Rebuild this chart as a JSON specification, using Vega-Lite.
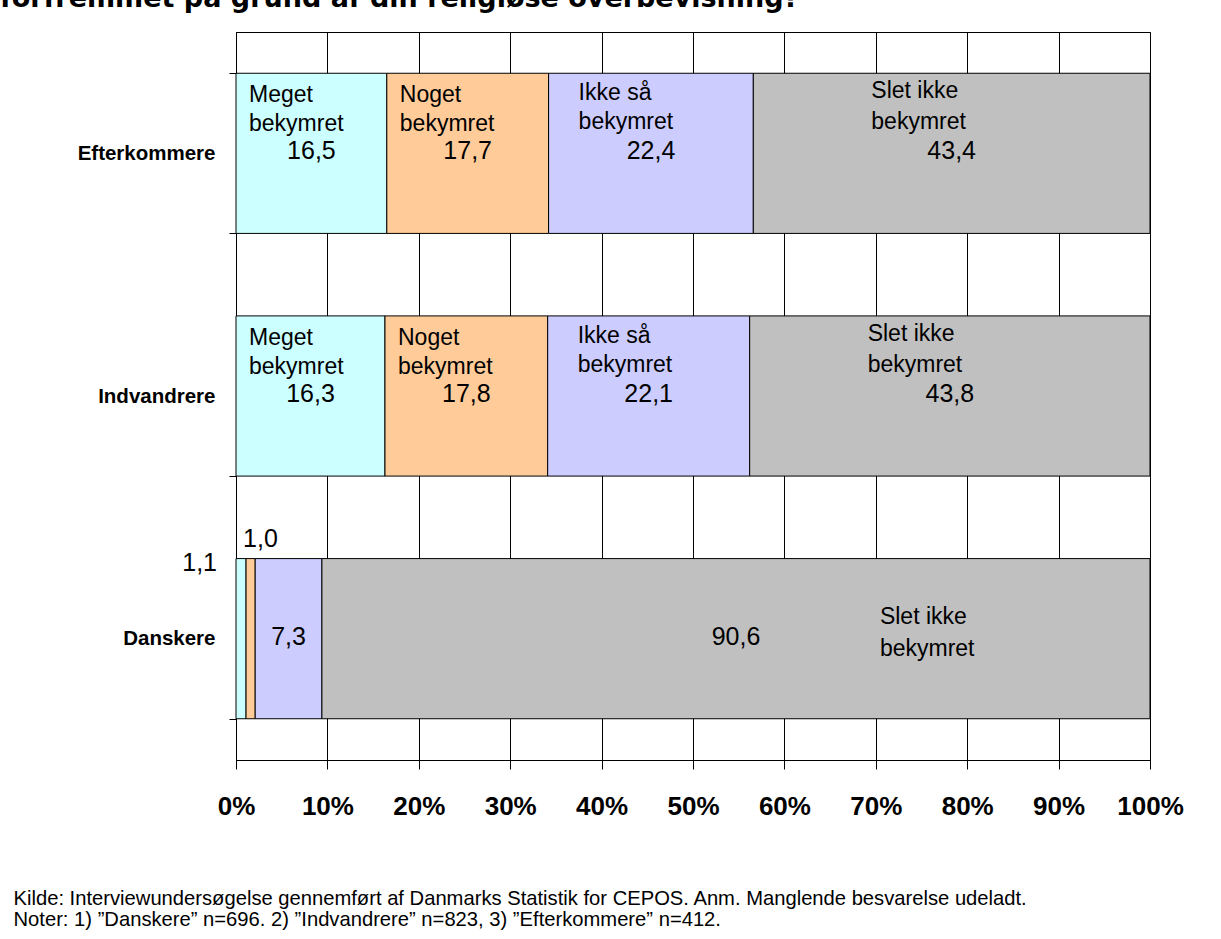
{
  "$schema": "https://vega.github.io/schema/vega-lite/v6.json",
  "autosize": {"type": "none"},
  "padding": {"left": 236, "top": 32, "right": 71, "bottom": 179},
  "width": 914,
  "height": 728,
  "background": "white",
  "title": {
    "text": "forfremmet på grund af din religiøse overbevisning?",
    "anchor": "start",
    "frame": "group",
    "offset": 8,
    "dx": -236,
    "dy": 20,
    "baseline": "alphabetic",
    "font": "DejaVu Sans",
    "fontSize": 27,
    "fontWeight": "bold",
    "color": "black"
  },
  "config": {
    "locale": {"number": {"decimal": ",", "thousands": ".", "grouping": [3], "currency": ["", " kr."]}},
    "view": {"stroke": "black", "strokeWidth": 1},
    "axisX": {
      "grid": true,
      "gridColor": "black",
      "gridOpacity": 1,
      "gridWidth": 1,
      "domainColor": "black",
      "tickColor": "black",
      "tickSize": 9,
      "labelFont": "Liberation Sans",
      "labelFontSize": 26,
      "labelFontWeight": "bold",
      "labelColor": "black",
      "labelPadding": 24,
      "labelFlush": false,
      "labelOverlap": false,
      "titleFont": "Liberation Sans",
      "titleFontSize": 20.2,
      "titleFontWeight": "normal",
      "titleColor": "black",
      "titleAnchor": "start",
      "titleAlign": "left",
      "titleBaseline": "alphabetic",
      "titleX": -223,
      "titleY": 144,
      "titleLineHeight": 21
    }
  },
  "data": {
    "values": [
      {"gruppe": "Efterkommere", "svar": "Meget bekymret", "n": 1, "pct": 16.5},
      {"gruppe": "Efterkommere", "svar": "Noget bekymret", "n": 2, "pct": 17.7},
      {"gruppe": "Efterkommere", "svar": "Ikke\u00a0så bekymret", "n": 3, "pct": 22.4},
      {"gruppe": "Efterkommere", "svar": "Slet\u00a0ikke bekymret", "n": 4, "pct": 43.4},
      {"gruppe": "Indvandrere", "svar": "Meget bekymret", "n": 1, "pct": 16.3},
      {"gruppe": "Indvandrere", "svar": "Noget bekymret", "n": 2, "pct": 17.8},
      {"gruppe": "Indvandrere", "svar": "Ikke\u00a0så bekymret", "n": 3, "pct": 22.1},
      {"gruppe": "Indvandrere", "svar": "Slet\u00a0ikke bekymret", "n": 4, "pct": 43.8},
      {"gruppe": "Danskere", "svar": "Meget bekymret", "n": 1, "pct": 1.1},
      {"gruppe": "Danskere", "svar": "Noget bekymret", "n": 2, "pct": 1.0},
      {"gruppe": "Danskere", "svar": "Ikke\u00a0så bekymret", "n": 3, "pct": 7.3},
      {"gruppe": "Danskere", "svar": "Slet\u00a0ikke bekymret", "n": 4, "pct": 90.6}
    ]
  },
  "transform": [
    {"stack": "pct", "groupby": ["gruppe"], "sort": [{"field": "n", "order": "ascending"}], "offset": "normalize", "as": ["x0", "x1"]}
  ],
  "encoding": {
    "y": {
      "field": "gruppe",
      "type": "nominal",
      "sort": ["Efterkommere", "Indvandrere", "Danskere"],
      "scale": {"paddingInner": 0.34, "paddingOuter": 0.17},
      "axis": {
        "title": null,
        "grid": false,
        "domain": true,
        "domainColor": "black",
        "ticks": true,
        "tickColor": "black",
        "tickSize": 7,
        "tickBand": "extent",
        "labelFont": "Liberation Sans",
        "labelFontSize": 20.5,
        "labelFontWeight": "bold",
        "labelColor": "black",
        "labelPadding": 14
      }
    },
    "x": {
      "field": "x0",
      "type": "quantitative",
      "scale": {"domain": [0, 1], "nice": false, "zero": true},
      "axis": {
        "values": [0, 0.1, 0.2, 0.3, 0.4, 0.5, 0.6, 0.7, 0.8, 0.9, 1],
        "format": ".0%",
        "title": [
          "Kilde: Interviewundersøgelse gennemført af Danmarks Statistik for CEPOS. Anm. Manglende besvarelse udeladt.",
          "Noter: 1) ”Danskere” n=696. 2) ”Indvandrere” n=823, 3) ”Efterkommere” n=412."
        ]
      }
    }
  },
  "layer": [
    {
      "mark": {"type": "bar", "stroke": "black", "strokeWidth": 1},
      "encoding": {
        "x2": {"field": "x1"},
        "color": {
          "field": "svar",
          "type": "nominal",
          "scale": {
            "domain": ["Meget bekymret", "Noget bekymret", "Ikke\u00a0så bekymret", "Slet\u00a0ikke bekymret"],
            "range": ["#CCFFFF", "#FFCC99", "#CCCCFF", "#C0C0C0"]
          },
          "legend": null
        }
      }
    },
    {
      "mark": {"type": "text", "font": "Liberation Sans", "fontSize": 25, "color": "black", "baseline": "middle", "align": "center", "dy": -2},
      "encoding": {
        "x": {
          "field": "pct",
          "type": "quantitative",
          "stack": "normalize",
          "bandPosition": 0.5,
          "axis": {
            "values": [0, 0.1, 0.2, 0.3, 0.4, 0.5, 0.6, 0.7, 0.8, 0.9, 1],
            "format": ".0%",
            "title": [
              "Kilde: Interviewundersøgelse gennemført af Danmarks Statistik for CEPOS. Anm. Manglende besvarelse udeladt.",
              "Noter: 1) ”Danskere” n=696. 2) ”Indvandrere” n=823, 3) ”Efterkommere” n=412."
            ]
          }
        },
        "order": {"field": "n", "type": "quantitative"},
        "text": {
          "condition": {"test": "datum.pct >= 2", "field": "pct", "type": "quantitative", "format": ".1f"},
          "value": ""
        }
      }
    },
    {
      "transform": [{"filter": "datum.gruppe == 'Danskere' && datum.n == 1"}],
      "mark": {"type": "text", "font": "Liberation Sans", "fontSize": 25, "color": "black", "baseline": "middle", "align": "right", "dx": -19, "dy": -76},
      "encoding": {
        "text": {"field": "pct", "type": "quantitative", "format": ".1f"}
      }
    },
    {
      "transform": [{"filter": "datum.gruppe == 'Danskere' && datum.n == 2"}],
      "mark": {"type": "text", "font": "Liberation Sans", "fontSize": 25, "color": "black", "baseline": "middle", "align": "left", "dx": -3, "dy": -100},
      "encoding": {
        "text": {"field": "pct", "type": "quantitative", "format": ".1f"}
      }
    },
    {
      "transform": [{"filter": "datum.gruppe != 'Danskere' && datum.n <= 2"}],
      "mark": {"type": "text", "font": "Liberation Sans", "fontSize": 23, "color": "black", "baseline": "alphabetic", "align": "left", "dx": 13, "dy": -51, "lineBreak": " ", "lineHeight": 29},
      "encoding": {
        "text": {"field": "svar", "type": "nominal"}
      }
    },
    {
      "transform": [{"filter": "datum.gruppe != 'Danskere' && datum.n == 3"}],
      "mark": {"type": "text", "font": "Liberation Sans", "fontSize": 23, "color": "black", "baseline": "alphabetic", "align": "left", "dx": 30, "dy": -53, "lineBreak": " ", "lineHeight": 29},
      "encoding": {
        "text": {"field": "svar", "type": "nominal"}
      }
    },
    {
      "transform": [{"filter": "datum.gruppe != 'Danskere' && datum.n == 4"}],
      "mark": {"type": "text", "font": "Liberation Sans", "fontSize": 23, "color": "black", "baseline": "alphabetic", "align": "left", "dx": 118, "dy": -55, "lineBreak": " ", "lineHeight": 31},
      "encoding": {
        "text": {"field": "svar", "type": "nominal"}
      }
    },
    {
      "transform": [{"filter": "datum.gruppe == 'Danskere' && datum.n == 4"}],
      "mark": {"type": "text", "font": "Liberation Sans", "fontSize": 23, "color": "black", "baseline": "alphabetic", "align": "left", "dx": 558, "dy": -15, "lineBreak": " ", "lineHeight": 32},
      "encoding": {
        "text": {"field": "svar", "type": "nominal"}
      }
    }
  ]
}
